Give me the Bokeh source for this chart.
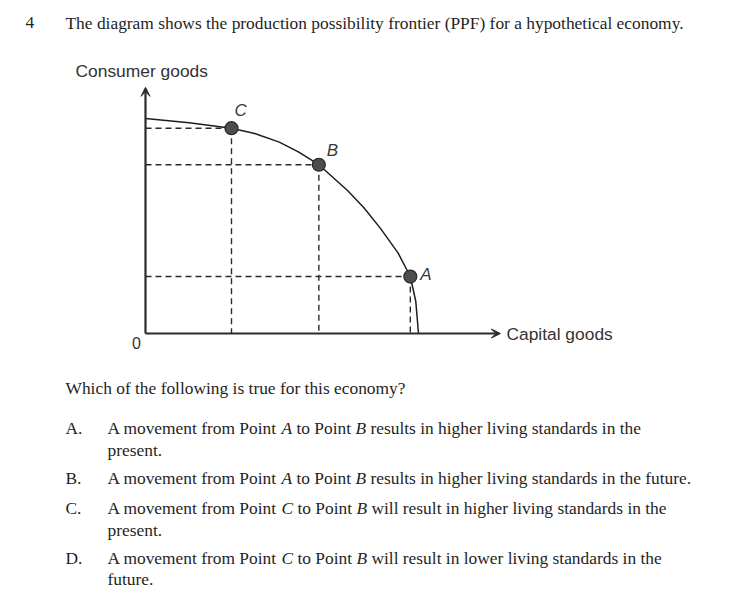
from bokeh.plotting import figure
from bokeh.models import Range1d, Arrow, VeeHead
from bokeh.core.properties import value
from bokeh.embed import file_html
from bokeh.resources import INLINE

# ---- data ----
capital_ppf = [0.0, 1.6, 3.15, 4.0, 4.9, 5.6, 6.35, 7.4, 8.0, 8.6, 9.25, 9.7, 9.9, 10.0]
consumer_ppf = [10.0, 9.8, 9.55, 9.3, 8.9, 8.45, 7.85, 6.65, 5.85, 4.9, 3.75, 2.65, 1.5, 0.0]
point_names = ["A", "B", "C"]
point_capital = [9.7, 6.35, 3.15]
point_consumer = [2.65, 7.85, 9.55]
x_axis_max = 13.0
y_axis_max = 11.45
x_label = "Capital goods"
y_label = "Consumer goods"

question_no = "4"
stem = "The diagram shows the production possibility frontier (PPF) for a hypothetical economy."
prompt = "Which of the following is true for this economy?"
option_letters = ["A.", "B.", "C.", "D."]
option_lines = [
    [[("A movement from Point ", False), ("A", True), (" to Point ", False), ("B", True),
      (" results in higher living standards in the", False)],
     [("present.", False)]],
    [[("A movement from Point ", False), ("A", True), (" to Point ", False), ("B", True),
      (" results in higher living standards in the future.", False)]],
    [[("A movement from Point ", False), ("C", True), (" to Point ", False), ("B", True),
      (" will result in higher living standards in the", False)],
     [("present.", False)]],
    [[("A movement from Point ", False), ("C", True), (" to Point ", False), ("B", True),
      (" will result in lower living standards in the", False)],
     [("future.", False)]],
]

# ---- layout helpers (picture pixels -> data units) ----
SX, SY = 27.3, 21.5
OX, OY = 145, 333
def dx(px):
    return (px - OX) / SX
def dy(py):
    return (OY - py) / SY

W, H = 739, 597
p = figure(width=W, height=H, output_backend="svg", toolbar_location=None,
           x_range=Range1d(dx(0), dx(W)), y_range=Range1d(dy(H), dy(0)),
           min_border=0, min_border_left=0, min_border_right=0,
           min_border_top=0, min_border_bottom=0)
p.xaxis.visible = False
p.yaxis.visible = False
p.grid.visible = False
p.outline_line_color = None
p.background_fill_color = "white"
p.border_fill_color = "white"

ink = "#2b2b2b"
sans = value("Liberation Sans")
serif = value("Liberation Serif")

# dashed guide lines
for x, y in zip(point_capital, point_consumer):
    p.line([0, x], [y, y], line_color=ink, line_width=1.4, line_dash="6 4")
    p.line([x, x], [y, 0], line_color=ink, line_width=1.4, line_dash="6 4")

# PPF curve
p.line(capital_ppf, consumer_ppf, line_color="#1e1e1e", line_width=1.5)

# axes with arrows
p.add_layout(Arrow(end=VeeHead(size=9, fill_color=ink, line_color=ink),
                   x_start=0, y_start=0, x_end=0, y_end=y_axis_max,
                   line_color=ink, line_width=2.2))
p.add_layout(Arrow(end=VeeHead(size=9, fill_color=ink, line_color=ink),
                   x_start=0, y_start=0, x_end=x_axis_max, y_end=0,
                   line_color=ink, line_width=2.2))

# points
p.scatter(point_capital, point_consumer, size=13, fill_color="#4d4d4d",
          line_color="#262626", line_width=1.2)

# point labels (offsets in pixels)
lab_px = [10, 8, 3]
lab_py = [-2, -14, -18]
p.text([x + a / SX for x, a in zip(point_capital, lab_px)],
       [y - b / SY for y, b in zip(point_consumer, lab_py)], text=point_names,
       text_font=sans, text_font_style="italic", text_font_size="17px",
       text_color="#3a3a3a", text_align="left", text_baseline="middle")

# axis labels
p.text([dx(75)], [dy(70)], text=[y_label], text_font=sans, text_font_size="17.4px",
       text_color="#333333", text_align="left", text_baseline="middle")
p.text([x_axis_max + 6 / SX], [0], text=[x_label], text_font=sans,
       text_font_size="17.4px", text_color="#333333", text_align="left",
       text_baseline="middle")
p.text([dx(136)], [dy(342)], text=["0"], text_font=sans, text_font_size="16px",
       text_color="#333333", text_align="center", text_baseline="middle")

# ---- question text ----
FS = 17.4
ROMAN = {" ": 250, "A": 722, "B": 667, "C": 667, "D": 722, "P": 556, "a": 444, "b": 500,
         "c": 444, "d": 500, "e": 444, "f": 333, "g": 500, "h": 500, "i": 278, "l": 278,
         "m": 778, "n": 500, "o": 500, "p": 500, "r": 333, "s": 389, "t": 278, "u": 500,
         "v": 500, "w": 722, "y": 500, ".": 250}
ITALIC = {"A": 611, "B": 611, "C": 667}

def seg_width(s, italic):
    table = ITALIC if italic else ROMAN
    return sum(table.get(c, 500) for c in s) * FS / 1000.0

body = "#1f1f1f"
def put(px, py, s, italic=False):
    p.text([dx(px)], [dy(py)], text=[s], text_font=serif, text_font_size=f"{FS}px",
           text_font_style="italic" if italic else "normal", text_color=body,
           text_align="left", text_baseline="middle")

put(25, 22, question_no)
put(65, 22, stem)
put(65, 387, prompt)

line_y = [[427, 449], [477], [507, 529], [557, 578]]
for letter, lines, ys in zip(option_letters, option_lines, line_y):
    put(65, ys[0], letter)
    for segs, py in zip(lines, ys):
        cx = 107
        for s, it in segs:
            lead = len(s) - len(s.lstrip(" "))
            put(cx + seg_width(" " * lead, it), py, s.strip(" "), it)
            cx += seg_width(s, it)

open("out.html", "w").write(file_html(p, INLINE))
